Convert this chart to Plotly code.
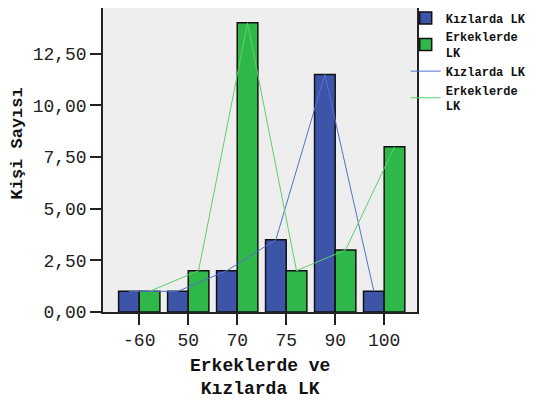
import plotly.graph_objects as go

categories = ["-60", "50", "70", "75", "90", "100"]
kizlarda = [1, 1, 2, 3.5, 11.5, 1]
erkeklerde = [1, 2, 14, 2, 3, 8]
y_ticks = [0, 2.5, 5, 7.5, 10, 12.5]

blue = "#3d55a9"
green = "#2eb849"
blue_line = "#5472d3"
green_line = "#5fcf6c"
mono = "Liberation Mono"

fig = go.Figure()
# lines first so they are drawn beneath the bars
fig.add_trace(go.Scatter(x=categories, y=kizlarda, name="Kızlarda LK", mode="lines",
                         line=dict(color=blue_line, width=1), offsetgroup="k",
                         legendrank=3))
fig.add_trace(go.Scatter(x=categories, y=erkeklerde, name="Erkeklerde<br>LK", mode="lines",
                         line=dict(color=green_line, width=1), offsetgroup="e",
                         legendrank=4))
fig.add_trace(go.Bar(x=categories, y=kizlarda, name="Kızlarda LK", marker_color=blue,
                     marker_line=dict(color="#111111", width=1.5), offsetgroup="k",
                     legendrank=1))
fig.add_trace(go.Bar(x=categories, y=erkeklerde, name="Erkeklerde<br>LK", marker_color=green,
                     marker_line=dict(color="#111111", width=1.5), offsetgroup="e",
                     legendrank=2))

title_font = dict(family=mono, size=18, color="#111111", weight="bold")
fig.update_layout(
    width=545, height=401,
    margin=dict(l=95, r=136, t=0, b=97, autoexpand=False),
    paper_bgcolor="white", plot_bgcolor="#eeeeee",
    barmode="group", bargap=0.157, bargroupgap=0,
    scattermode="group", scattergap=0.157,
    separators=",.",
    font=dict(family=mono, color="#222222"),
    showlegend=True,
    legend=dict(x=0.964, y=1.015, xanchor="left", yanchor="top",
                font=dict(family=mono, size=12, color="#111111", weight="bold"),
                tracegroupgap=0, itemwidth=30, bgcolor="rgba(0,0,0,0)"),
    annotations=[
        dict(text="Erkeklerde ve<br>Kızlarda LK", xref="paper", yref="paper", x=0.5, y=-0.214,
             showarrow=False, font=title_font, xanchor="center", yanchor="middle"),
        dict(text="Kişi Sayısı", xref="paper", yref="paper", x=-0.271, y=0.554,
             showarrow=False, textangle=-90, xanchor="center", yanchor="middle",
             font=dict(family=mono, size=17, color="#111111", weight="bold")),
    ],
)
fig.update_xaxes(type="category", range=[-0.74, 5.67], automargin=False,
                 showline=True, linecolor="#222222", linewidth=1.5, mirror=True,
                 ticks="outside", ticklen=11, tickcolor="#222222", tickwidth=1.5,
                 tickfont=dict(family=mono, size=18, color="#222222"),
                 showgrid=False, zeroline=False)
fig.update_yaxes(range=[0, 14.72], tickvals=y_ticks, tickformat=".2f", automargin=False,
                 showline=True, linecolor="#222222", linewidth=1.5, mirror=True,
                 ticks="outside", ticklen=11, tickcolor="#222222", tickwidth=1.5,
                 tickfont=dict(family=mono, size=18, color="#222222"),
                 showgrid=False, zeroline=False)

fig.write_html("out.html")
